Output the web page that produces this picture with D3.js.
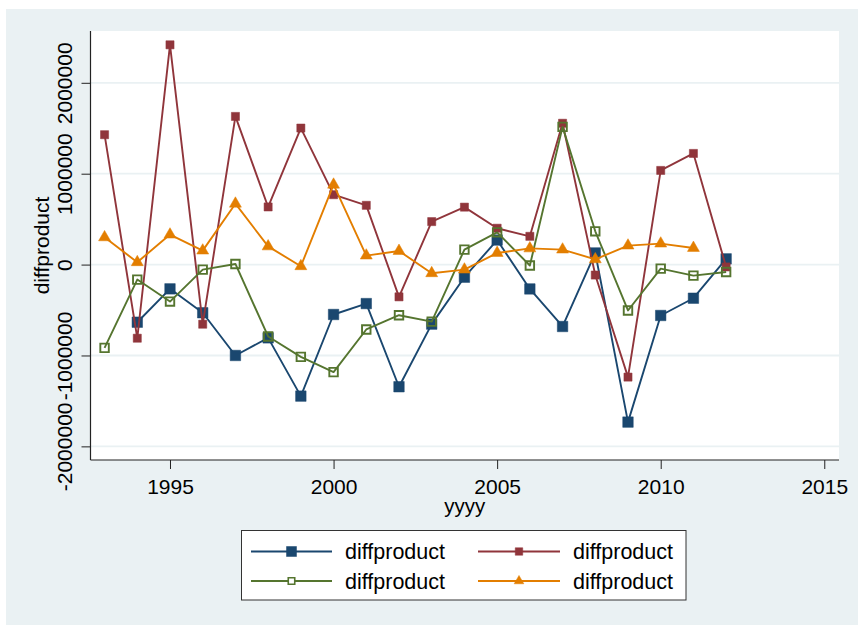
<!DOCTYPE html>
<html>
<head>
<meta charset="utf-8">
<script src="https://cdn.jsdelivr.net/npm/d3@7"></script>
<style>
  html, body { margin: 0; padding: 0; background: #ffffff; }
  svg { display: block; }
  text { font-family: "Liberation Sans", Arial, Helvetica, sans-serif; fill: #000; }
</style>
</head>
<body>
<svg id="chart" width="858" height="628"></svg>
<script>
// ---- data ----
const years = [1993, 1994, 1995, 1996, 1997, 1998, 1999, 2000, 2001, 2002,
               2003, 2004, 2005, 2006, 2007, 2008, 2009, 2010, 2011, 2012];
const seriesNavy   = [null, -634000, -267000, -530000, -1000000, -806000, -1447000, -549000, -429000, -1344000,
                      -655000, -139000, 270000, -268000, -681000, 128000, -1733000, -560000, -370000, 63000];
const seriesMaroon = [1429000, -810000, 2418000, -656000, 1630000, 634000, 1502000, 769000, 652000, -355000,
                      473000, 632000, 400000, 311000, 1555000, -115000, -1238000, 1036000, 1223000, -26000];
const seriesGreen  = [-916000, -165000, -407000, -55000, 7000, -791000, -1015000, -1183000, -714000, -557000,
                      -628000, 165000, 355000, -10000, 1515000, 366000, -505000, -44000, -121000, -81000];
const seriesOrange = [300000, 26000, 330000, 154000, 670000, 200000, -18000, 879000, 99000, 150000,
                      -95000, -55000, 128000, 178000, 165000, 58000, 209000, 231000, 183000, null];
const xTicks = [1995, 2000, 2005, 2010, 2015];
const yTicks = [-2000000, -1000000, 0, 1000000, 2000000];
const legendLabels = ["diffproduct", "diffproduct", "diffproduct", "diffproduct"];
const xTitle = "yyyy";
const yTitle = "diffproduct";

// ---- layout ----
const svg = d3.select("#chart");
const plot = {left: 90.5, right: 839, top: 31, bottom: 460};
const bg = "#eaf1f3";

svg.append("rect").attr("x", 6).attr("y", 9).attr("width", 852).attr("height", 616).attr("fill", bg);
svg.append("rect").attr("x", plot.left).attr("y", plot.top)
   .attr("width", plot.right - plot.left).attr("height", plot.bottom - plot.top).attr("fill", "#ffffff");

const x = d3.scaleLinear().domain([1992.57, 2015.45]).range([plot.left, plot.right]);
const y = d3.scaleLinear().domain([-2150000, 2570000]).range([plot.bottom, plot.top]);
const plainFmt = d => String(d);

// gridlines
svg.append("g").selectAll("line").data(yTicks).join("line")
   .attr("x1", plot.left).attr("x2", plot.right)
   .attr("y1", d => y(d)).attr("y2", d => y(d))
   .attr("stroke", bg).attr("stroke-width", 1.8);

// x axis
const gx = svg.append("g").attr("transform", `translate(0,${plot.bottom})`)
  .call(d3.axisBottom(x).tickValues(xTicks).tickSize(9).tickFormat(plainFmt));
gx.select(".domain").remove();
gx.selectAll(".tick line").attr("stroke", "#222").attr("stroke-width", 1);
gx.selectAll(".tick text").attr("y", 34).attr("dy", 0)
  .style("font-size", "21px").style("font-family", '"Liberation Sans", Arial, sans-serif').attr("fill", "#000");

// y axis
const gy = svg.append("g").attr("transform", `translate(${plot.left},0)`)
  .call(d3.axisLeft(y).tickValues(yTicks).tickSize(9).tickFormat(plainFmt));
gy.select(".domain").remove();
gy.selectAll(".tick line").attr("stroke", "#222").attr("stroke-width", 1);
gy.selectAll(".tick text")
  .attr("x", 0).attr("y", -19).attr("dy", 0)
  .attr("transform", "rotate(-90)")
  .attr("text-anchor", "middle")
  .style("font-size", "21px").style("font-family", '"Liberation Sans", Arial, sans-serif').attr("fill", "#000");

// axis lines
svg.append("line").attr("x1", plot.left).attr("x2", plot.left).attr("y1", plot.top).attr("y2", plot.bottom)
   .attr("stroke", "#222").attr("stroke-width", 1.2);
svg.append("line").attr("x1", plot.left).attr("x2", plot.right).attr("y1", plot.bottom).attr("y2", plot.bottom)
   .attr("stroke", "#222").attr("stroke-width", 1.2);

// titles
svg.append("text").attr("x", (plot.left + plot.right) / 2).attr("y", 513)
   .attr("text-anchor", "middle").style("font-size", "20.5px").text(xTitle);
svg.append("text").attr("transform", `translate(49,${(plot.top + plot.bottom) / 2}) rotate(-90)`)
   .attr("text-anchor", "middle").style("font-size", "21px").text(yTitle);

// series
const series = [
  {values: seriesNavy,   color: "#1a476f", symbol: d3.symbolSquare,   size: 110, fill: true,  lsize: 100},
  {values: seriesMaroon, color: "#90353b", symbol: d3.symbolSquare,   size: 66,  fill: true,  lsize: 56},
  {values: seriesGreen,  color: "#55752f", symbol: d3.symbolSquare,   size: 72,  fill: false, lsize: 42},
  {values: seriesOrange, color: "#e37e00", symbol: d3.symbolTriangle, size: 62,  fill: true,  lsize: 40}
];

const line = d3.line().defined(d => d[1] !== null).x(d => x(d[0])).y(d => y(d[1]));

series.forEach(s => {
  const pts = years.map((yr, i) => [yr, s.values[i]]);
  const g = svg.append("g");
  g.append("path").datum(pts).attr("d", line)
   .attr("fill", "none").attr("stroke", s.color).attr("stroke-width", 1.9).attr("stroke-linejoin", "round");
  g.selectAll("path.m").data(pts.filter(d => d[1] !== null)).join("path").attr("class", "m")
   .attr("transform", d => `translate(${x(d[0])},${y(d[1])})`)
   .attr("d", d3.symbol().type(s.symbol).size(s.size))
   .attr("fill", s.fill ? s.color : "none")
   .attr("stroke", s.color).attr("stroke-width", s.fill ? 0.5 : 1.9);
});

// legend
const lg = svg.append("g");
lg.append("rect").attr("x", 241.5).attr("y", 530.5).attr("width", 444.5).attr("height", 69.5)
  .attr("fill", "#ffffff").attr("stroke", "#333").attr("stroke-width", 1);
const legPos = [
  {x1: 251, x2: 332, ly: 551.5, tx: 345, ty: 559},
  {x1: 478, x2: 560, ly: 551.5, tx: 573, ty: 559},
  {x1: 251, x2: 332, ly: 581, tx: 345, ty: 588.5},
  {x1: 478, x2: 560, ly: 581, tx: 573, ty: 588.5}
];
series.forEach((s, i) => {
  const p = legPos[i];
  lg.append("line").attr("x1", p.x1).attr("x2", p.x2).attr("y1", p.ly).attr("y2", p.ly)
    .attr("stroke", s.color).attr("stroke-width", 1.9);
  lg.append("path").attr("transform", `translate(${(p.x1 + p.x2) / 2},${p.ly})`)
    .attr("d", d3.symbol().type(s.symbol).size(s.lsize)())
    .attr("fill", s.fill ? s.color : "#fff")
    .attr("stroke", s.color).attr("stroke-width", s.fill ? 0.5 : 1.6);
  lg.append("text").attr("x", p.tx).attr("y", p.ty).style("font-size", "21.5px").text(legendLabels[i]);
});
</script>
</body>
</html>
